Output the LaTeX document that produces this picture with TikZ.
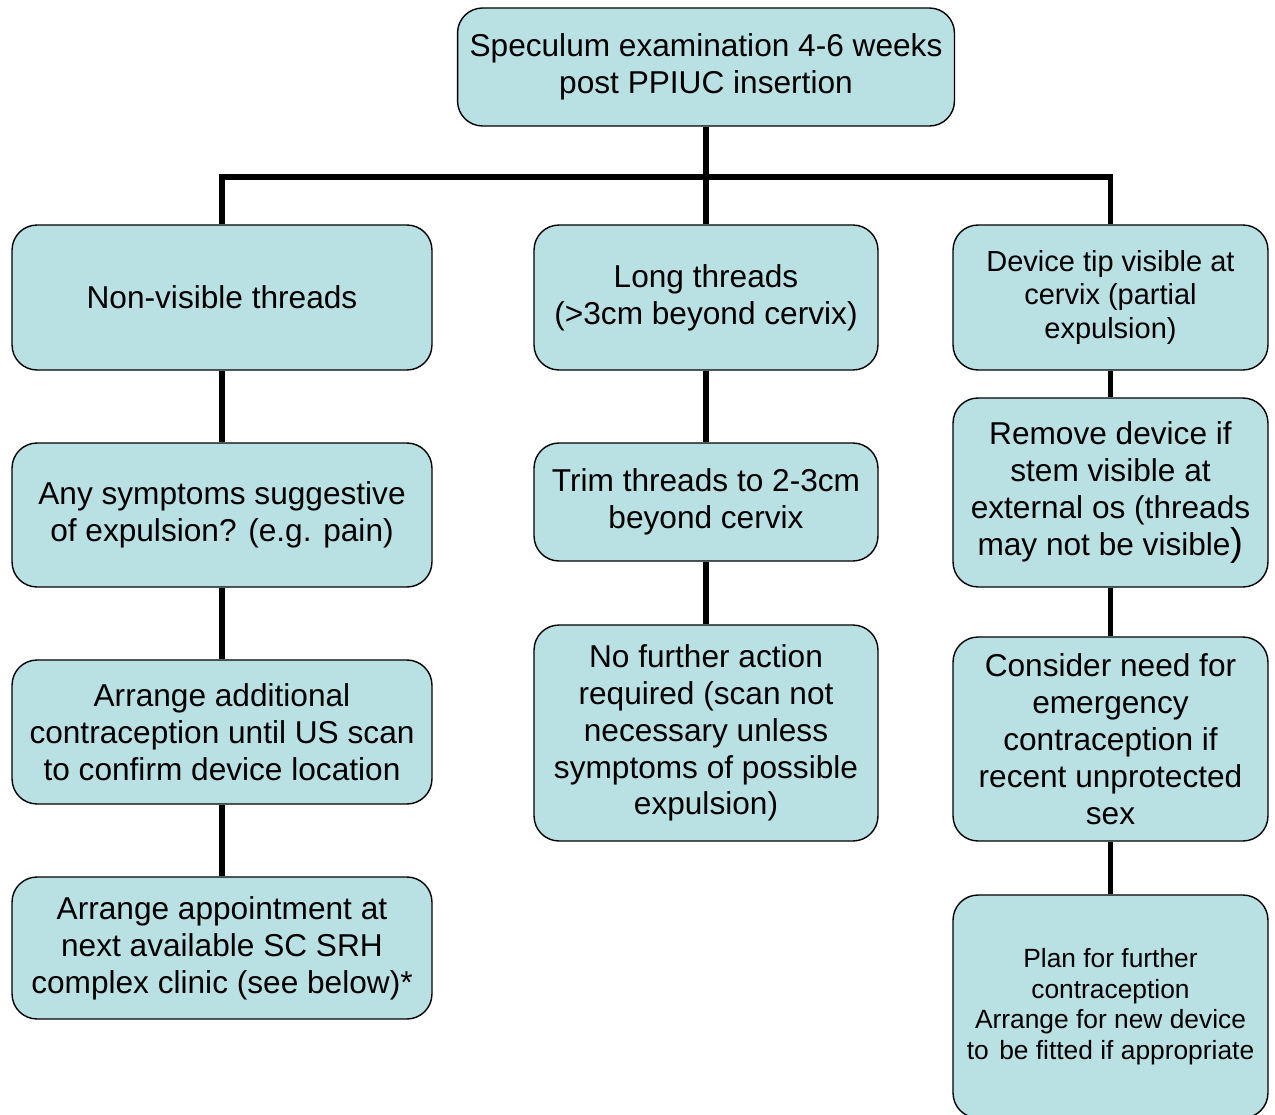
\documentclass[tikz,border=0pt]{standalone}
\usepackage{fontspec}
\setmainfont{Liberation Sans}
\usetikzlibrary{positioning}
\definecolor{boxfill}{RGB}{185,224,227}
\tikzset{
  panel/.style={draw,fill=boxfill,line width=0.8pt,rounded corners=0.5cm,
    align=center,inner sep=0pt,font=\fontsize{18}{21}\selectfont},
  link/.style={line width=2.9pt}
}

\begin{document}
\begin{tikzpicture}[x=0.02cm,y=-0.02cm]
\useasboundingbox (0,0) rectangle (1275,1115);
% top of the tree
\node[panel,minimum width=9.94cm,minimum height=2.36cm](top)at(706,67)
  {\raisebox{-3pt}{}Speculum examination 4-6 weeks\\post PPIUC insertion};
% left column
\node[panel,minimum width=8.4cm,minimum height=2.9cm](nonvis)at(222,297.5)
  {Non-visible threads};
\node[panel,minimum width=8.4cm,minimum height=2.88cm](symptoms)at(222,515)
  {Any symptoms suggestive\\of expulsion? (e.g. pain)};
\node[panel,minimum width=8.4cm,minimum height=2.88cm](arrange)at(222,732)
  {Arrange additional\\contraception until US scan\\to confirm device location};
\node[panel,minimum width=8.4cm,minimum height=2.84cm](appoint)at(222,948)
  {Arrange appointment at\\next available SC SRH\\complex clinic (see below)*};
% middle column
\node[panel,minimum width=6.88cm,minimum height=2.9cm](long)at(706,297.5)
  {Long threads\\(>3cm beyond cervix)};
\node[panel,minimum width=6.88cm,minimum height=2.36cm](trim)at(706,502)
  {Trim threads to 2-3cm\\beyond cervix};
\node[panel,minimum width=6.88cm,minimum height=4.32cm](nofurther)at(706,733)
  {No further action\\required (scan not\\necessary unless\\symptoms of possible\\expulsion)};
% right column
\node[panel,minimum width=6.3cm,minimum height=2.9cm,
  font=\fontsize{16.5}{18.8}\selectfont](devtip)at(1110.5,297.5)
  {Device tip visible at\\cervix (partial\\expulsion)};
\node[panel,minimum width=6.3cm,minimum height=3.78cm](remove)at(1110.5,492.5)
  {Remove device if\\stem visible at\\external os (threads\\may not be visible{\fontsize{22}{21}\selectfont)}};
\node[panel,minimum width=6.3cm,minimum height=4.46cm,
  font=\fontsize{15}{17.4}\selectfont](plan)at(1110.5,1006.5)
  {Plan for further\\contraception\\Arrange for new device\\to\hspace{0.12em} be fitted if appropriate};
\node[panel,minimum width=6.3cm,minimum height=4.08cm](consider)at(1110.5,739)
  {Consider need for\\emergency\\contraception if\\recent unprotected\\sex};
\coordinate(bus)at(706,177);
% connectors
\draw[link](top)--(long);
\draw[link](nonvis.north)|-(bus)-|(devtip.north);
\draw[link](nonvis)--(symptoms);
\draw[link](symptoms)--(arrange);
\draw[link](arrange)--(appoint);
\draw[link](long)--(trim);
\draw[link](trim)--(nofurther);
\draw[link](devtip)--(remove);
\draw[link](remove)--(consider);
\draw[link](consider)--(plan);
\end{tikzpicture}
\end{document}
